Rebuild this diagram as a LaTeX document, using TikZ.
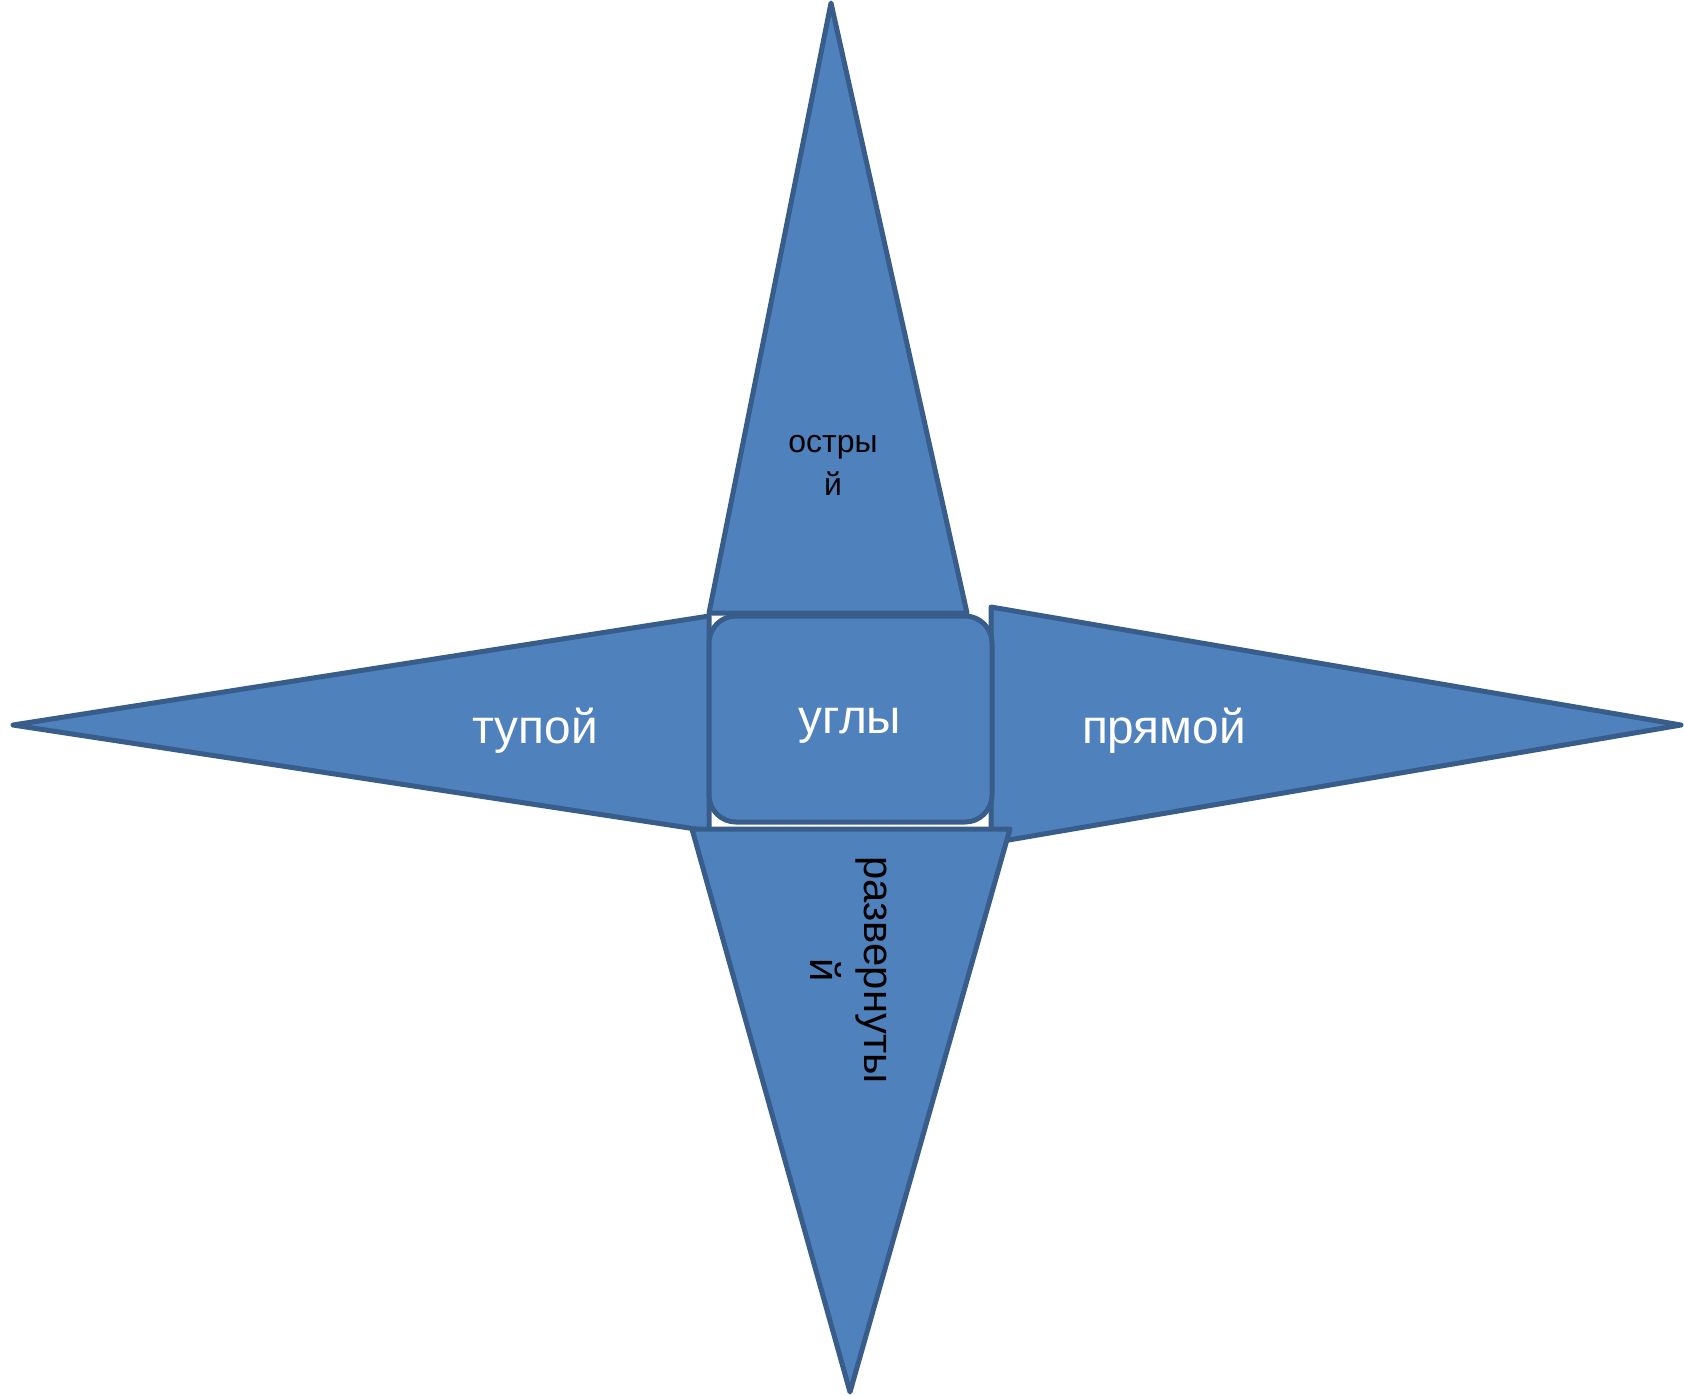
\documentclass[tikz,border=0pt]{standalone}
\usepackage{fontspec}
\setmainfont{Liberation Sans}
\usepackage{tikz}
\usepackage{xcolor}
\definecolor{azul}{HTML}{4F81BD}
\definecolor{borda}{HTML}{385D8A}
\tikzset{
  raio/.style={fill=azul, draw=borda, line width=0.5mm, line join=round},
  rotulo/.style={white, font=\fontsize{13.6}{16}\selectfont},
}

\begin{document}
\begin{tikzpicture}[x=0.1mm, y=-0.1mm]
    \useasboundingbox (0,0) rectangle (1684,1395);
    % Triângulos
    \draw[raio] (709,616) -- (13,725) -- (709,831) -- cycle;
    \draw[raio] (991,607) -- (1681,725) -- (991,843) -- cycle;
    \draw[raio] (709,613) -- (831,3) -- (967,613) -- cycle;
    % Centro
    \draw[raio, rounded corners=2.7mm] (709,616) rectangle (992,822);
    \draw[raio] (692,829) -- (1010,829) -- (850,1392) -- cycle;
    % Rótulos
    \node[rotulo] (centro) at (850,726) {углы};
    \node[rotulo] (tupoi) at (535,731) {тупой};
    \node[rotulo] (priamoi) at (1164,731) {прямой};
    \node[align=center, font=\fontsize{9.1}{12.2}\selectfont] (ostryi) at (833,465) {остры\\й};
    \node[align=center, rotate=-90, font=\fontsize{11.9}{15.5}\selectfont] (razv) at (849,970) {развернуты\\й};
\end{tikzpicture}
\end{document}
